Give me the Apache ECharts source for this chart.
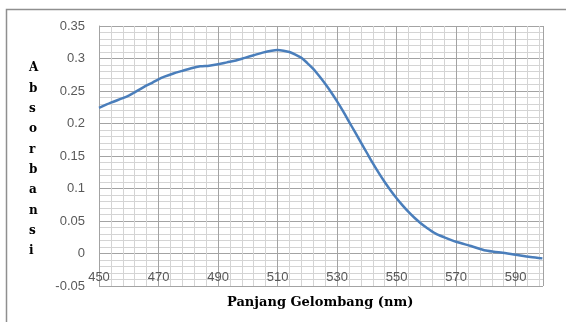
<!DOCTYPE html>
<html><head><meta charset="utf-8">
<script src="https://cdn.jsdelivr.net/npm/echarts@6/dist/echarts.min.js"></script>
<style>html,body{margin:0;padding:0;background:#fff}#c{width:566px;height:322px}</style>
</head><body><div id="c"></div>
<script>
// Wavelength (nm) and absorbance readings
const wavelengths = [450, 454, 458, 460, 462, 465, 468, 470, 472, 475, 478, 481, 484, 487, 490, 493, 496, 499, 502, 505, 508, 510, 512, 514, 516, 518, 520, 522, 524, 526, 528, 530, 532, 534, 536, 538, 540, 542, 544, 546, 548, 550, 552, 554, 556, 558, 560, 563, 566, 570, 575, 580, 585, 590, 595, 599];
const absorbance  = [0.224, 0.232, 0.239, 0.243, 0.248, 0.256, 0.263, 0.268, 0.272, 0.277, 0.281, 0.285, 0.288, 0.289, 0.291, 0.294, 0.297, 0.301, 0.305, 0.309, 0.312, 0.313, 0.312, 0.310, 0.306, 0.301, 0.293, 0.284, 0.273, 0.261, 0.248, 0.234, 0.219, 0.203, 0.187, 0.171, 0.155, 0.139, 0.124, 0.110, 0.097, 0.085, 0.074, 0.064, 0.055, 0.047, 0.040, 0.031, 0.025, 0.018, 0.0115, 0.0045, 0.0015, -0.002, -0.0055, -0.0075];
const xAxisTitle = 'Panjang Gelombang (nm)';
const yAxisTitle = 'Absorbansi';

const chart = echarts.init(document.getElementById('c'), null, {renderer: 'canvas'});
const majorLine = {show: true, lineStyle: {color: '#a3a3a3', width: 1}};
const minorLine = {show: true, lineStyle: {color: '#d4d4d4', width: 1}};
chart.setOption({
  animation: false,
  backgroundColor: '#fff',
  grid: {left: 99, top: 26, right: 23, bottom: 36, containLabel: false},
  xAxis: {
    type: 'value', min: 450, max: 599.2, interval: 20,
    position: 'bottom', offset: -32.5,
    axisLine: {show: false, onZero: false},
    axisTick: {show: false},
    axisLabel: {color: '#595959', fontSize: 13, fontFamily: 'Liberation Sans', margin: 17, showMaxLabel: false},
    splitLine: majorLine,
    minorTick: {show: false, splitNumber: 5},
    minorSplitLine: minorLine
  },
  yAxis: {
    type: 'value', min: -0.05, max: 0.35, interval: 0.05,
    axisLine: {show: true, lineStyle: {color: '#a3a3a3', width: 1}},
    axisTick: {show: false},
    axisLabel: {color: '#595959', fontSize: 13, fontFamily: 'Liberation Sans', margin: 14},
    splitLine: majorLine,
    minorTick: {show: false, splitNumber: 5},
    minorSplitLine: minorLine
  },
  series: [{
    type: 'line',
    data: wavelengths.map((w, i) => [w, absorbance[i]]),
    showSymbol: false,
    smooth: 0.3,
    lineStyle: {color: '#4a7ebb', width: 2.5},
    z: 5
  }],
  graphic: [
    {type: 'polyline', shape: {points: [[6.5, 322], [6.5, 9.5], [566, 9.5]]}, style: {stroke: '#8f8f8f', lineWidth: 1.5, fill: null}, silent: true},
    {type: 'text', left: 29, top: 58,
     style: {text: yAxisTitle.split('').join('\n'), font: 'bold 12px "DejaVu Serif"', fill: '#000', lineHeight: 20.33, align: 'center'}},
    {type: 'text', left: 227, top: 296,
     style: {text: xAxisTitle, font: 'bold 13px "DejaVu Serif"', fill: '#000'}}
  ]
});
</script>
</body></html>
